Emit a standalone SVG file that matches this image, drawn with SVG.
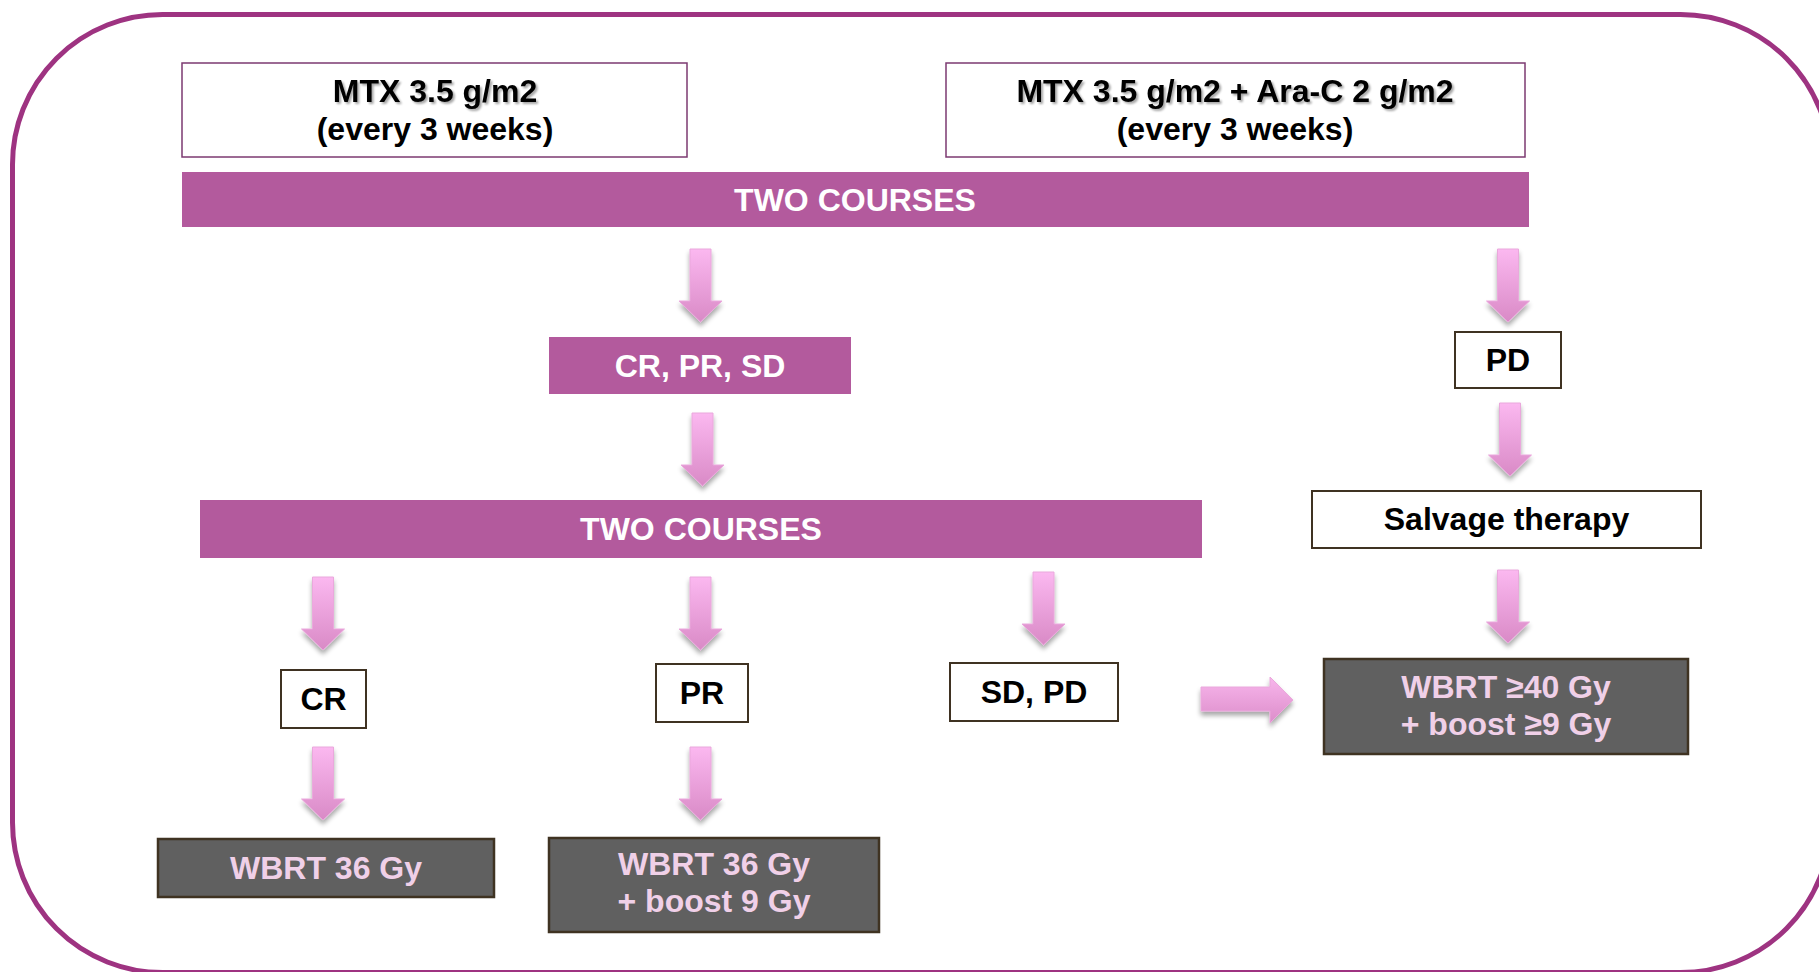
<svg xmlns="http://www.w3.org/2000/svg" width="1819" height="972" viewBox="0 0 1819 972">
  <defs>
    <linearGradient id="arrowFillV" x1="0" y1="0" x2="0" y2="1">
      <stop offset="0" stop-color="#fbb8f0"/>
      <stop offset="1" stop-color="#d98ac6"/>
    </linearGradient>
    <linearGradient id="arrowFillH" x1="0" y1="0" x2="0" y2="1">
      <stop offset="0" stop-color="#f8b6ec"/>
      <stop offset="1" stop-color="#dc8dca"/>
    </linearGradient>
    <filter id="arrowShadow" x="-50%" y="-30%" width="200%" height="170%">
      <feGaussianBlur in="SourceAlpha" stdDeviation="2.5"/>
      <feOffset dx="0" dy="4" result="blur"/>
      <feComponentTransfer><feFuncA type="linear" slope="0.35"/></feComponentTransfer>
      <feMerge><feMergeNode/><feMergeNode in="SourceGraphic"/></feMerge>
    </filter>
    <filter id="textShadow" x="-10%" y="-30%" width="120%" height="160%">
      <feGaussianBlur in="SourceAlpha" stdDeviation="1"/>
      <feOffset dx="1.5" dy="1.5"/>
      <feComponentTransfer><feFuncA type="linear" slope="0.35"/></feComponentTransfer>
      <feMerge><feMergeNode/><feMergeNode in="SourceGraphic"/></feMerge>
    </filter>
    <!-- down arrow, tip at (0,73), top centred on x=0 -->
    <path id="downArrow" d="M-10.5,0 H10.5 V52 H21.5 L0,73 L-21.5,52 H-10.5 Z"/>
  </defs>
  <style>
    text { font-family: "Liberation Sans", Arial, sans-serif; font-weight: bold; font-size: 32px; text-anchor: middle; }
    .dark { fill: #000000; }
    .light { fill: #ffffff; }
    .pinkText { fill: #f0d0e8; }
    .topBox { fill: #ffffff; stroke: #7c3a71; stroke-width: 1.5; }
    .outBox { fill: #ffffff; stroke: #3f3222; stroke-width: 2; }
    .bar { fill: #b35a9d; }
    .grayBox { fill: #606060; stroke: #3f3322; stroke-width: 2.5; }
    .arrow { fill: url(#arrowFillV); stroke: #eaa8dc; stroke-width: 1; filter: url(#arrowShadow); }
    .arrowH { fill: url(#arrowFillH); stroke: #eaa8dc; stroke-width: 1; filter: url(#arrowShadow); }
  </style>

  <rect width="1819" height="972" fill="#ffffff"/>

  <!-- outer frame -->
  <rect id="frame" x="12.5" y="14.5" width="1818" height="958" rx="150" ry="150" fill="none" stroke="#9e3381" stroke-width="5"/>

  <g id="connectors">
    <use href="#downArrow" class="arrow" x="700.5" y="249"/>
    <use href="#downArrow" class="arrow" x="702.5" y="413"/>
    <use href="#downArrow" class="arrow" x="1508" y="249"/>
    <use href="#downArrow" class="arrow" x="1510" y="403"/>
    <use href="#downArrow" class="arrow" x="1508" y="570"/>
    <use href="#downArrow" class="arrow" x="1043.5" y="572"/>
    <use href="#downArrow" class="arrow" x="323" y="577"/>
    <use href="#downArrow" class="arrow" x="323" y="747"/>
    <use href="#downArrow" class="arrow" x="700.5" y="577"/>
    <use href="#downArrow" class="arrow" x="700.5" y="747"/>
    <path class="arrowH" d="M1201,687 H1270 V677 L1293,700 L1270,723 V711 H1201 Z"/>
  </g>

  <g id="node-mtx">
    <rect class="topBox" x="182" y="63" width="505" height="94"/>
    <text class="dark" x="435" y="102" filter="url(#textShadow)">MTX 3.5 g/m2</text>
    <text class="dark" x="435" y="140">(every 3 weeks)</text>
  </g>

  <g id="node-mtx-arac">
    <rect class="topBox" x="946" y="63" width="579" height="94"/>
    <text class="dark" x="1235" y="102" filter="url(#textShadow)">MTX 3.5 g/m2 + Ara-C 2 g/m2</text>
    <text class="dark" x="1235" y="140">(every 3 weeks)</text>
  </g>

  <g id="node-two-courses-1">
    <rect class="bar" x="182" y="172" width="1347" height="55"/>
    <text class="light" x="855" y="211">TWO COURSES</text>
  </g>

  <g id="node-cr-pr-sd">
    <rect class="bar" x="549" y="337" width="302" height="57"/>
    <text class="light" x="700" y="377">CR, PR, SD</text>
  </g>

  <g id="node-two-courses-2">
    <rect class="bar" x="200" y="500" width="1002" height="58"/>
    <text class="light" x="701" y="540">TWO COURSES</text>
  </g>

  <g id="node-pd">
    <rect class="outBox" x="1455" y="332" width="106" height="56"/>
    <text class="dark" x="1508" y="371">PD</text>
  </g>

  <g id="node-salvage">
    <rect class="outBox" x="1312" y="491" width="389" height="57"/>
    <text class="dark" x="1506.5" y="530">Salvage therapy</text>
  </g>

  <g id="node-cr">
    <rect class="outBox" x="281" y="670" width="85" height="58"/>
    <text class="dark" x="323.5" y="710">CR</text>
  </g>

  <g id="node-pr">
    <rect class="outBox" x="656" y="664" width="92" height="58"/>
    <text class="dark" x="702" y="704">PR</text>
  </g>

  <g id="node-sd-pd">
    <rect class="outBox" x="950" y="663" width="168" height="58"/>
    <text class="dark" x="1034" y="703">SD, PD</text>
  </g>

  <g id="node-wbrt-36">
    <rect class="grayBox" x="158" y="839" width="336" height="58"/>
    <text class="pinkText" x="326" y="879">WBRT 36 Gy</text>
  </g>

  <g id="node-wbrt-36-boost">
    <rect class="grayBox" x="549" y="838" width="330" height="94"/>
    <text class="pinkText" x="714" y="875">WBRT 36 Gy</text>
    <text class="pinkText" x="714" y="912">+ boost 9 Gy</text>
  </g>

  <g id="node-wbrt-40-boost">
    <rect class="grayBox" x="1324" y="659" width="364" height="95"/>
    <text class="pinkText" x="1506" y="698">WBRT ≥40 Gy</text>
    <text class="pinkText" x="1506" y="735">+ boost ≥9 Gy</text>
  </g>
</svg>
